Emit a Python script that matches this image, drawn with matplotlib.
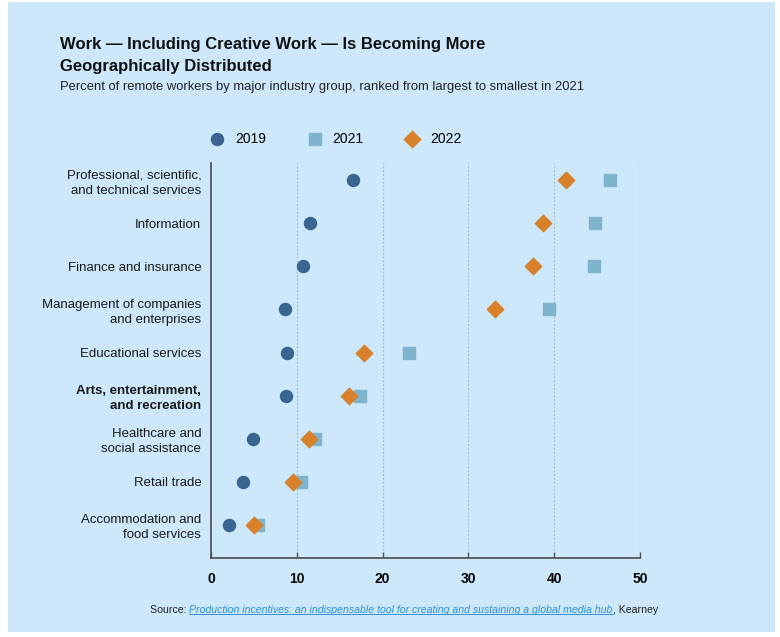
import numpy as np
import matplotlib.pyplot as plt
from matplotlib.patches import Rectangle

plt.rcParams["font.family"] = ["Liberation Sans", "DejaVu Sans"]

industries = [
    "Professional, scientific,\nand technical services",
    "Information",
    "Finance and insurance",
    "Management of companies\nand enterprises",
    "Educational services",
    "Arts, entertainment,\nand recreation",
    "Healthcare and\nsocial assistance",
    "Retail trade",
    "Accommodation and\nfood services",
]
pct_2019 = [16.5, 11.5, 10.7, 8.6, 8.8, 8.7, 4.9, 3.7, 2.1]
pct_2021 = [46.5, 44.8, 44.6, 39.4, 23.1, 17.4, 12.1, 10.5, 5.5]
pct_2022 = [41.4, 38.7, 37.5, 33.1, 17.8, 16.1, 11.4, 9.6, 5.0]
highlight = "Arts, entertainment,\nand recreation"

bg = "#cce8fa"
c2019 = "#3a6591"
c2021 = "#7fb4cc"
c2022 = "#d9812a"

fig = plt.figure(figsize=(7.8, 6.37), dpi=100)
fig.patch.set_facecolor("white")
fig.patches.append(Rectangle((8 / 780, 5 / 637), 767 / 780, 630 / 637,
                             transform=fig.transFigure, facecolor=bg,
                             edgecolor="none", zorder=-10))

ax = fig.add_axes([211 / 780, 1 - 558 / 637, 429 / 780, 395 / 637])
ax.set_facecolor(bg)

y = np.arange(len(industries))
ax.scatter(pct_2019, y, marker="o", s=75, color=c2019, zorder=3, label="2019")
ax.scatter(pct_2021, y, marker="s", s=70, color=c2021, zorder=3, label="2021")
ax.scatter(pct_2022, y, marker="D", s=70, color=c2022, zorder=4, label="2022")

ax.set_xlim(0, 50)
ax.set_ylim(len(industries) - 0.23, -0.4)
ax.set_xticks([0, 10, 20, 30, 40, 50])
for x in [10, 20, 30, 40, 50]:
    ax.axvline(x, color="#aebcc6", linestyle=(0, (1.5, 1.5)), linewidth=0.9, zorder=1)

ax.set_yticks(y)
ax.set_yticklabels(industries, fontsize=9.5, color="#1a1a1a", linespacing=1.35)
for lbl in ax.get_yticklabels():
    if lbl.get_text() == highlight:
        lbl.set_fontweight("bold")
ax.tick_params(axis="y", length=0, pad=7)
ax.tick_params(axis="x", length=4, direction="in", width=1, color="#555555",
               labelsize=10, pad=10)
for lbl in ax.get_xticklabels():
    lbl.set_fontweight("bold")

for s in ["top", "right"]:
    ax.spines[s].set_visible(False)
for s in ["left", "bottom"]:
    ax.spines[s].set_color("#555555")
    ax.spines[s].set_linewidth(1.3)

leg = ax.legend(loc="lower left", bbox_to_anchor=(-0.015, 1.03), ncol=3,
                frameon=False, fontsize=10, handlelength=1.0, handletextpad=0.8,
                columnspacing=3.0, borderaxespad=0)

fig.text(60 / 780, 1 - 45 / 637, "Work \u2014 Including Creative Work \u2014 Is Becoming More",
         fontsize=12, fontweight="bold", va="center", color="#111111")
fig.text(60 / 780, 1 - 66 / 637, "Geographically Distributed",
         fontsize=12, fontweight="bold", va="center", color="#111111")
fig.text(60 / 780, 1 - 87 / 637,
         "Percent of remote workers by major industry group, ranked from largest to smallest in 2021",
         fontsize=9.4, va="center", color="#222222")

src_y = 1 - 610 / 637
t1 = fig.text(150 / 780, src_y, "Source: ", fontsize=7.6, va="center", color="#222222")
fig.canvas.draw()
r = fig.canvas.get_renderer()
bb = t1.get_window_extent(r)
t2 = fig.text(bb.x1 / 780, src_y,
              "Production incentives: an indispensable tool for creating and sustaining a global media hub",
              fontsize=7.6, va="center", color="#2f8fd6", style="italic")
bb2 = t2.get_window_extent(r)
fig.lines.append(plt.Line2D([bb2.x0 / 780, bb2.x1 / 780],
                            [(bb2.y0 + 1) / 637, (bb2.y0 + 1) / 637],
                            transform=fig.transFigure, color="#2f8fd6", linewidth=0.7))
fig.text(bb2.x1 / 780, src_y, ", Kearney", fontsize=7.6, va="center", color="#222222")

fig.savefig("out.png", dpi=100)
